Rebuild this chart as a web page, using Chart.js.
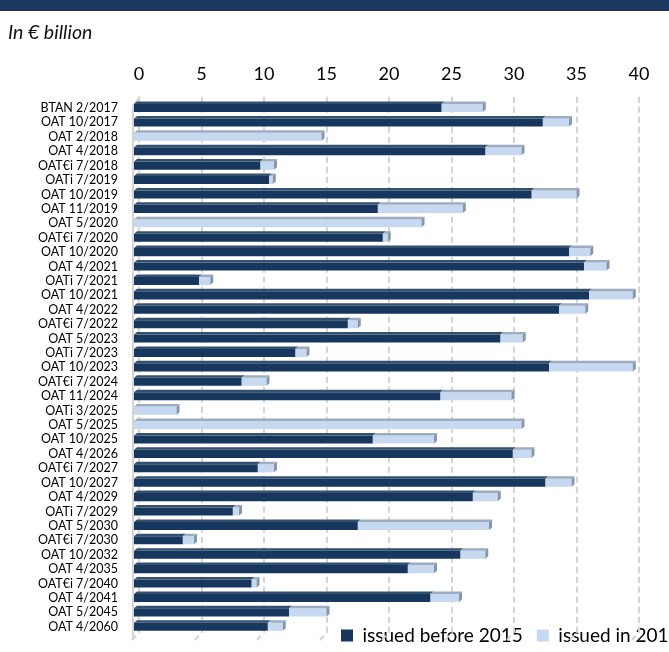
<!DOCTYPE html>
<html>
<head>
<meta charset="utf-8">
<script src="https://cdn.jsdelivr.net/npm/chart.js@4.4.1/dist/chart.umd.min.js"></script>
<style>
  html, body { margin: 0; padding: 0; background: #fff; overflow: hidden; }
  #wrap { width: 669px; height: 652px; }
</style>
</head>
<body>
<div id="wrap"><canvas id="oatChart" width="669" height="652"></canvas></div>
<script>
// bond lines, top to bottom
const bonds = [
  'BTAN 2/2017', 'OAT 10/2017', 'OAT 2/2018', 'OAT 4/2018', 'OAT€i 7/2018',
  'OATi 7/2019', 'OAT 10/2019', 'OAT 11/2019', 'OAT 5/2020', 'OAT€i 7/2020',
  'OAT 10/2020', 'OAT 4/2021', 'OATi 7/2021', 'OAT 10/2021', 'OAT 4/2022',
  'OAT€i 7/2022', 'OAT 5/2023', 'OATi 7/2023', 'OAT 10/2023', 'OAT€i 7/2024',
  'OAT 11/2024', 'OATi 3/2025', 'OAT 5/2025', 'OAT 10/2025', 'OAT 4/2026',
  'OAT€i 7/2027', 'OAT 10/2027', 'OAT 4/2029', 'OATi 7/2029', 'OAT 5/2030',
  'OAT€i 7/2030', 'OAT 10/2032', 'OAT 4/2035', 'OAT€i 7/2040', 'OAT 4/2041',
  'OAT 5/2045', 'OAT 4/2060'
];

// € billion
const issuedBefore2015 = [
  24.6, 32.7, 0, 28.1, 10.1,
  10.8, 31.8, 19.5, 0, 19.9,
  34.8, 36.0, 5.2, 36.4, 34.0,
  17.1, 29.3, 12.9, 33.2, 8.6,
  24.5, 0, 0, 19.1, 30.3,
  9.9, 32.9, 27.1, 7.9, 17.9,
  3.9, 26.1, 21.9, 9.4, 23.7,
  12.4, 10.7
];
const issuedIn2015 = [
  3.3, 2.1, 15.0, 2.9, 1.1,
  0.3, 3.6, 6.8, 23.0, 0.4,
  1.7, 1.8, 0.9, 3.5, 2.1,
  0.8, 1.8, 0.9, 6.7, 2.0,
  5.7, 3.4, 31.0, 4.9, 1.5,
  1.3, 2.1, 2.0, 0.5, 10.5,
  0.9, 2.0, 2.1, 0.4, 2.3,
  3.0, 1.2
];

const xMin = 0;
const xMax = 40;
const xStep = 5;

const DARK = '#17375e';
const LIGHT = '#c6d9f1';
const FONT = 'Lato, "Open Sans", sans-serif';

// back wall offset of the 3D look
const WALL_DX = 5;

const banner = {
  id: 'banner',
  beforeDraw(chart) {
    const ctx = chart.ctx;
    ctx.save();
    ctx.fillStyle = '#ffffff';
    ctx.fillRect(0, 0, chart.width, chart.height);
    ctx.fillStyle = '#1b375d';
    ctx.fillRect(0, 0, chart.width, 11);
    ctx.restore();
    // legend sits over the floor, bottom right
    const lg = chart.legend;
    if (lg) {
      lg.left = 327;
      lg.right = 2000;
      lg.top = 612;
    }
  }
};

const wallGrid = {
  id: 'wallGrid',
  beforeDatasetsDraw(chart) {
    const { ctx, chartArea } = chart;
    const xs = chart.scales.x;
    const top = chartArea.top - 4;
    const bottom = chartArea.bottom - 2;
    ctx.save();
    ctx.strokeStyle = '#d4d4d4';
    ctx.lineWidth = 2;
    // left side wall
    ctx.beginPath();
    ctx.moveTo(chartArea.left + WALL_DX + 1, top);
    ctx.lineTo(chartArea.left - 1, top + 9);
    ctx.lineTo(chartArea.left - 1, bottom + 7);
    ctx.stroke();
    ctx.setLineDash([6, 4]);
    for (let v = xMin; v <= xMax; v += xStep) {
      const gx = Math.round(xs.getPixelForValue(v)) + WALL_DX;
      ctx.beginPath();
      ctx.moveTo(gx, top);
      ctx.lineTo(gx, bottom);
      ctx.lineTo(gx - 7, bottom + 8);
      ctx.stroke();
    }
    ctx.restore();
  }
};

// top and side faces of the bars
const barFaces = {
  id: 'barFaces',
  afterDatasetsDraw(chart) {
    const ctx = chart.ctx;
    const dx = 3, dy = 2.5;
    const tops = ['#34506f', '#9cadc1'];
    const sides = ['#0e2540', '#8797aa'];
    ctx.save();
    chart.data.datasets.forEach((ds, di) => {
      const meta = chart.getDatasetMeta(di);
      meta.data.forEach((bar, i) => {
        const p = bar.getProps(['x', 'y', 'base', 'height'], true);
        const x0 = Math.min(p.x, p.base), x1 = Math.max(p.x, p.base);
        if (x1 - x0 < 0.5) return;
        const t = p.y - p.height / 2, b = p.y + p.height / 2;
        ctx.fillStyle = tops[di];
        ctx.beginPath();
        ctx.moveTo(x0, t);
        ctx.lineTo(x1, t);
        ctx.lineTo(x1 + dx, t - dy);
        ctx.lineTo(x0 + dx, t - dy);
        ctx.closePath();
        ctx.fill();
        const last = di === 1 || issuedIn2015[i] === 0;
        if (last) {
          ctx.fillStyle = sides[di];
          ctx.beginPath();
          ctx.moveTo(x1, t);
          ctx.lineTo(x1 + dx, t - dy);
          ctx.lineTo(x1 + dx, b - dy);
          ctx.lineTo(x1, b);
          ctx.closePath();
          ctx.fill();
        }
      });
    });
    ctx.restore();
  }
};

new Chart(document.getElementById('oatChart'), {
  type: 'bar',
  data: {
    labels: bonds,
    datasets: [
      {
        label: 'issued before 2015',
        data: issuedBefore2015,
        backgroundColor: DARK,
        borderWidth: 0,
        categoryPercentage: 1,
        barPercentage: 0.56
      },
      {
        label: 'issued in 2015',
        data: issuedIn2015,
        backgroundColor: LIGHT,
        borderWidth: 0,
        categoryPercentage: 1,
        barPercentage: 0.56
      }
    ]
  },
  options: {
    indexAxis: 'y',
    responsive: false,
    animation: false,
    layout: { padding: { top: 12, left: 8, right: 35, bottom: 0 } },
    plugins: {
      title: {
        display: true,
        text: 'In € billion',
        align: 'start',
        color: '#111',
        font: { family: FONT, size: 19.5, style: 'italic', weight: 'normal' },
        padding: { top: 9, bottom: 0 }
      },
      legend: {
        position: 'bottom',
        align: 'start',
        maxHeight: 18,
        labels: {
          color: '#000',
          boxWidth: 12,
          boxHeight: 12,
          padding: 14,
          font: { family: FONT, size: 19 }
        }
      },
      tooltip: { enabled: false }
    },
    scales: {
      x: {
        position: 'top',
        stacked: true,
        min: xMin,
        max: xMax,
        grid: { display: false },
        border: { display: false },
        ticks: {
          stepSize: xStep,
          padding: 8,
          labelOffset: WALL_DX,
          color: '#000',
          font: { family: FONT, size: 18 }
        },
        afterFit(scale) { scale.height = 56.4; }
      },
      y: {
        stacked: true,
        grid: { display: false },
        border: { display: false },
        ticks: {
          autoSkip: false,
          padding: 8,
          color: '#000',
          font: { family: FONT, size: 12.5 }
        },
        afterFit(scale) { scale.width = 126; }
      }
    }
  },
  plugins: [banner, wallGrid, barFaces]
});
</script>
</body>
</html>
